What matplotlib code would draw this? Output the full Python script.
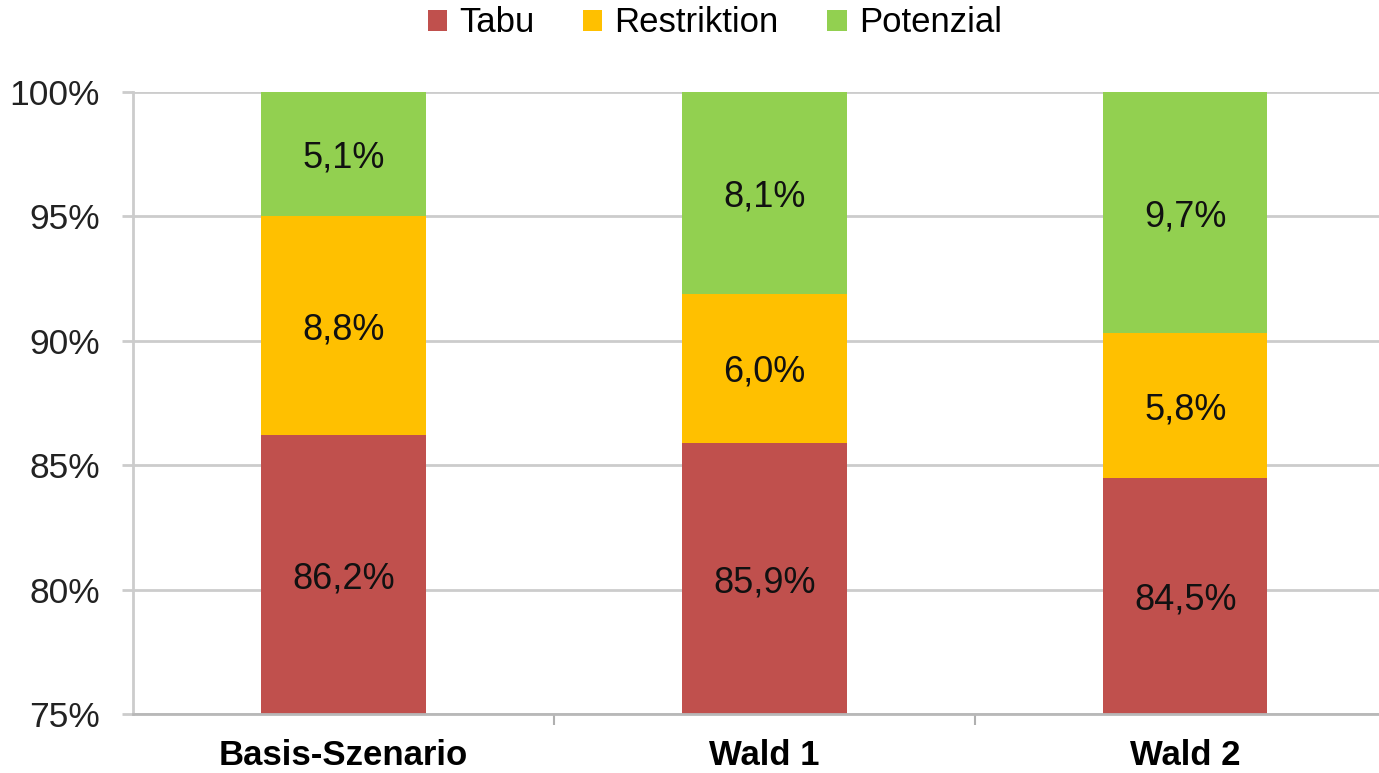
import matplotlib
matplotlib.use("Agg")
import matplotlib.pyplot as plt
import numpy as np

categories = ["Basis-Szenario", "Wald 1", "Wald 2"]
tabu = [86.2, 85.9, 84.5]
restriktion = [8.8, 6.0, 5.8]
potenzial = [5.1, 8.1, 9.7]
series_names = ["Tabu", "Restriktion", "Potenzial"]
colors = ["#C0504D", "#FFC000", "#92D050"]
y_ticks = [75, 80, 85, 90, 95, 100]

plt.rcParams['font.family'] = ['Liberation Sans', 'DejaVu Sans']

fig = plt.figure(figsize=(13.79, 7.73), dpi=100)
ax = fig.add_axes([133/1379, 59/773, 1 - 133/1379, (714-92)/773])

x = np.arange(len(categories))
width = 0.39
ymin, ymax = 75, 100
bottoms = np.zeros(len(categories))
handles = []
for vals, name, col in zip([tabu, restriktion, potenzial], series_names, colors):
    vals = np.array(vals)
    b = ax.bar(x, vals, width, bottom=bottoms, color=col, label=name, zorder=3)
    handles.append(b)
    for xi, v, bt in zip(x, vals, bottoms):
        lo = max(bt, ymin)
        hi = min(bt + v, ymax)
        ax.annotate(f"{v:.1f}%".replace(".", ","), (xi, (lo + hi) / 2),
                    xytext=(0, -3), textcoords="offset points",
                    ha="center", va="center", fontsize=26, color="#111111", zorder=4)
    bottoms = bottoms + vals

ax.set_ylim(ymin, ymax)
ax.set_xlim(-0.5, 2.46)
ax.set_yticks(y_ticks)
ax.set_yticklabels([f"{t}%" for t in y_ticks])
ax.yaxis.grid(True, color="#cccccc", linewidth=2, zorder=0)
ax.set_axisbelow(True)

ax.set_xticks(x)
ax.set_xticklabels(categories, fontweight="bold", fontsize=25)
ax.tick_params(axis="x", length=0, pad=18)
ax.set_xticks([0.5, 1.5], minor=True)
ax.tick_params(axis="x", which="minor", length=8, width=1.5, color="#b0b0b0", direction="out")
ax.tick_params(axis="y", length=8, width=2, color="#cccccc", labelsize=25.5, pad=16,
               labelcolor="#222222")

for s in ["top", "right"]:
    ax.spines[s].set_visible(False)
ax.spines["left"].set_color("#cccccc")
ax.spines["left"].set_linewidth(2)
ax.spines["bottom"].set_color("#b8b8b8")
ax.spines["bottom"].set_linewidth(2)
ax.spines["bottom"].set_zorder(5)

fig.legend(handles=handles, labels=series_names, loc="center", ncol=3,
           bbox_to_anchor=(715/1379, 1 - 23/773), frameon=False, fontsize=25,
           handlelength=0.55, handleheight=0.55, handletextpad=0.35, columnspacing=1.4)

fig.savefig("out.png", dpi=100)
